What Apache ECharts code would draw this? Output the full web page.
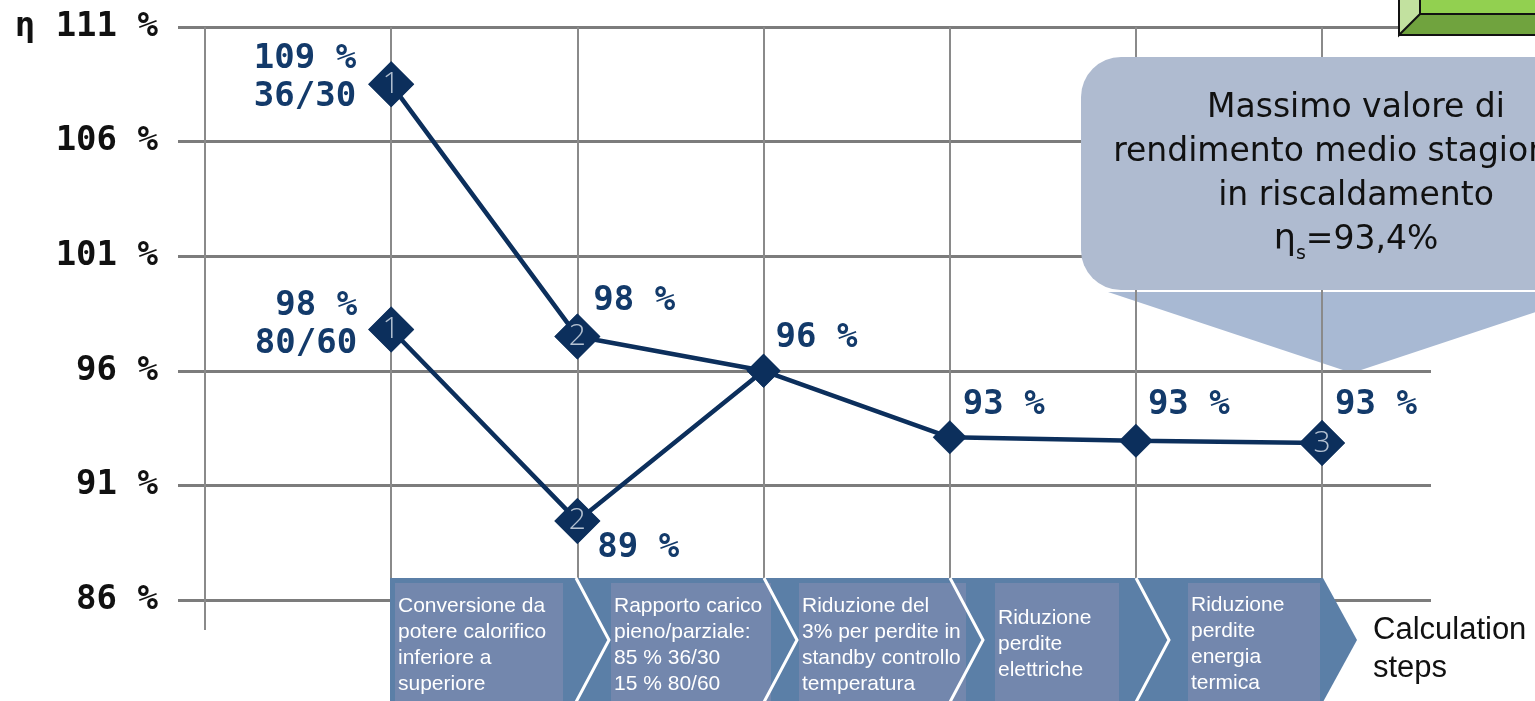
<!DOCTYPE html>
<html>
<head>
<meta charset="utf-8">
<script src="https://cdn.jsdelivr.net/npm/echarts@6/dist/echarts.min.js"></script>
<style>
  html, body { margin: 0; padding: 0; background: #fff; }
  #chart { width: 1535px; height: 701px; }
</style>
</head>
<body>
<div id="chart"></div>
<script>
// calculation steps on the x axis
const stepX = [1, 2, 3, 4, 5, 6]
// efficiency of the 36/30 and 80/60 curves (%)
const eta3630 = [108.5, 97.5, 96.0, 93.1, 92.95, 92.85]
const eta8060 = [97.8, 89.45, 96.0]
const label3630 = ['109 %\n36/30', '98 %', '96 %', '93 %', '93 %', '93 %']
const label8060 = ['98 %\n80/60', '89 %', '']
const badge3630 = ['1', '2', '', '', '', '3']
const badge8060 = ['1', '2', '']
const yTicks = [86, 91, 96, 101, 106, 111]
const stepTexts = [
  'Conversione da\npotere calorifico\ninferiore a\nsuperiore',
  'Rapporto carico\npieno/parziale:\n85 % 36/30\n15 % 80/60',
  'Riduzione del\n3% per perdite in\nstandby controllo\ntemperatura',
  'Riduzione\nperdite\nelettriche',
  'Riduzione\nperdite\nenergia\ntermica'
]
const calloutLines = ['Massimo valore di', 'rendimento medio stagionale', 'in riscaldamento']
const calloutValue = '=93,4%'

// label placement, kept apart from the data
const place3630 = [
  { align: 'right', offset: [-35, -6] },
  { align: 'left', offset: [16, -35] },
  { align: 'left', offset: [12, -33] },
  { align: 'left', offset: [13, -32] },
  { align: 'left', offset: [12, -36] },
  { align: 'left', offset: [13, -38] }
]
const place8060 = [
  { align: 'right', offset: [-34, -4] },
  { align: 'left', offset: [20, 27] },
  { align: 'left', offset: [0, 0] }
]

const navy = '#0c2f5c'
const monoFont = '"DejaVu Sans Mono", monospace'

const chart = echarts.init(document.getElementById('chart'))

function lineData(values, labels, badges, places) {
  return values.map((v, i) => ({
    value: [stepX[i], v],
    symbolSize: badges[i] ? 46 : 34,
    label: {
      show: labels[i] !== '',
      formatter: labels[i],
      position: 'inside',
      align: places[i].align,
      verticalAlign: 'middle',
      offset: places[i].offset
    }
  }))
}

function badgeData(values, badges) {
  return values
    .map((v, i) => ({ value: [stepX[i], v], name: badges[i] }))
    .filter(d => d.name !== '')
}

const labelStyle = {
  color: '#133a6a',
  fontFamily: monoFont,
  fontWeight: 'bold',
  fontSize: 34,
  lineHeight: 38
}

// banner with the step boxes
const boxes = [
  [395, 168], [611, 160], [799, 167], [995, 124], [1188, 132]
]
const textTops = [593, 593, 593, 605, 592]
const chevronX = [576, 764, 950, 1136]

const graphics = [
  // callout pointer (under grid lines)
  { type: 'polygon', z: -1, shape: { points: [[1108, 292], [1596, 292], [1352, 373]] }, style: { fill: '#a8b9d3' } },
  // callout body
  { type: 'rect', z: 5, shape: { x: 1081, y: 57, width: 520, height: 233, r: 40 }, style: { fill: '#afbbd0' } },
  {
    type: 'text', z: 6, x: 1356, y: 86,
    style: {
      text: calloutLines.join('\n') + '\n{eta|η}{sub|s}' + calloutValue,
      align: 'center', fill: '#111', font: '33px "DejaVu Sans"', lineHeight: 44,
      rich: {
        eta: { fontSize: 35, fontFamily: 'DejaVu Sans', lineHeight: 44 },
        sub: { fontSize: 19, fontFamily: 'DejaVu Sans', padding: [28, 0, 0, 0], lineHeight: 44 }
      }
    }
  },
  // banner background
  {
    type: 'polygon', z: 5,
    shape: { points: [[390, 578], [1323, 578], [1357, 640], [1323, 702], [390, 702]] },
    style: { fill: '#5b7fa7' }
  },
  // green box, top right
  { type: 'rect', z: 5, shape: { x: 1399, y: -5, width: 140, height: 40 }, style: { fill: '#70a33e', stroke: '#111', lineWidth: 2 } },
  { type: 'polygon', z: 6, shape: { points: [[1399, -5], [1420, -5], [1420, 14], [1399, 35]] }, style: { fill: '#c2e19f', stroke: '#111', lineWidth: 2 } },
  { type: 'rect', z: 6, shape: { x: 1420, y: -5, width: 120, height: 19 }, style: { fill: '#92d050', stroke: '#111', lineWidth: 2 } },
  {
    type: 'text', z: 6, x: 1373, y: 611,
    style: { text: 'Calculation\nsteps', fill: '#111', font: '31px "Liberation Sans"', lineHeight: 38 }
  }
]
boxes.forEach(([x, w], i) => {
  graphics.push({ type: 'rect', z: 6, shape: { x: x, y: 583, width: w, height: 118 }, style: { fill: '#7387ad' } })
  graphics.push({
    type: 'text', z: 7, x: x + 3, y: textTops[i],
    style: { text: stepTexts[i], fill: '#fff', font: '21px "Liberation Sans"', lineHeight: 26 }
  })
})
chevronX.forEach(x => {
  graphics.push({
    type: 'polyline', z: 8,
    shape: { points: [[x, 578], [x + 33, 640], [x, 702]] },
    style: { stroke: '#fff', lineWidth: 3, fill: null }
  })
})

chart.setOption({
  animation: false,
  grid: [
    { left: 178, right: 104, top: 27, bottom: 101 },
    { left: 205, right: 213, top: 27, bottom: 71 }
  ],
  xAxis: [
    { type: 'value', gridIndex: 0, min: -0.145, max: 6.585, show: false },
    {
      type: 'value', gridIndex: 1, min: 0, max: 6, interval: 1, z: 1,
      axisLine: { show: false }, axisTick: { show: false }, axisLabel: { show: false },
      splitLine: { show: true, lineStyle: { color: '#8a8a8a', width: 2 } }
    }
  ],
  yAxis: [
    {
      type: 'value', gridIndex: 0, min: yTicks[0], max: yTicks[yTicks.length - 1], interval: 5, z: 1,
      axisLine: { show: false }, axisTick: { show: false },
      axisLabel: {
        margin: 20, color: '#111', fontFamily: monoFont, fontWeight: 'bold', fontSize: 34,
        formatter: v => (v === 111 ? 'η ' : '') + v + ' %'
      },
      splitLine: { show: true, lineStyle: { color: '#7c7c7c', width: 3 } }
    },
    { type: 'value', gridIndex: 1, min: 0, max: 1, show: false }
  ],
  graphic: { elements: graphics },
  series: [
    {
      name: '36/30', type: 'line', z: 10,
      symbol: 'diamond', color: navy,
      lineStyle: { color: navy, width: 4.5 },
      itemStyle: { color: navy },
      label: labelStyle,
      data: lineData(eta3630, label3630, badge3630, place3630)
    },
    {
      name: '80/60', type: 'line', z: 10,
      symbol: 'diamond', color: navy,
      lineStyle: { color: navy, width: 4.5 },
      itemStyle: { color: navy },
      label: labelStyle,
      data: lineData(eta8060, label8060, badge8060, place8060)
    },
    {
      name: 'badges', type: 'scatter', z: 11,
      symbol: 'diamond', symbolSize: 46,
      itemStyle: { color: navy },
      label: {
        show: true, position: 'inside', formatter: '{b}',
        color: '#dfe6ef', fontFamily: 'Open Sans', fontWeight: 300, fontSize: 30
      },
      data: badgeData(eta3630, badge3630).concat(badgeData(eta8060, badge8060))
    }
  ]
})
</script>
</body>
</html>
